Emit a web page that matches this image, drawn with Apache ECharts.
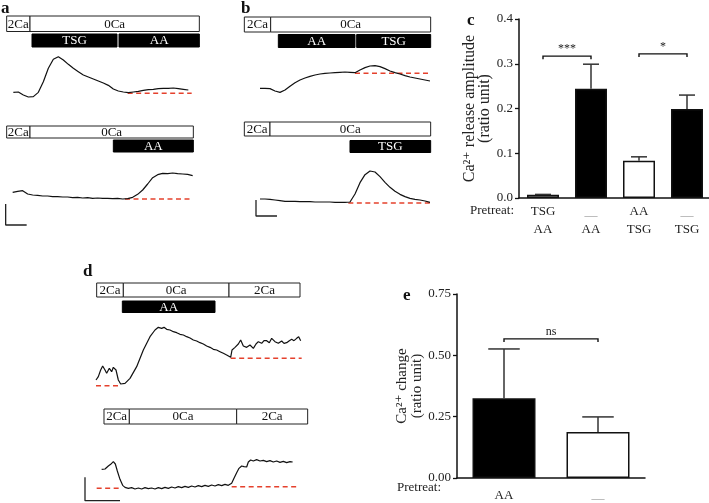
<!DOCTYPE html>
<html><head><meta charset="utf-8">
<script src="https://cdn.jsdelivr.net/npm/echarts@6/dist/echarts.min.js"></script>
<style>html,body{margin:0;padding:0;background:#fff}#chart{width:709px;height:503px}</style>
</head><body><div id="chart"></div><script>
// ================= DATA =================
// Panel a – upper trace: TSG then AA in 0 Ca (regular sampling, time s / ratio)
const a1Start = 20, a1Step = 15;
const a1Ratio = [0.23,0.24,0.15,0.09,0.10,0.23,0.55,0.95,1.22,1.30,1.20,1.07,0.95,0.85,0.75,0.69,0.63,0.57,0.51,0.44,0.33,0.27,0.24,0.22,0.24,0.26,0.29,0.31,0.32,0.34,0.35,0.35,0.36,0.34,0.32,0.30];
const a1Baseline = [[363,0.20],[555,0.20]];
const a1Solution = [[0,70],[70,578]];
const a1SolutionText = ['2Ca','0Ca'];
const a1Drug = [[76,331],[337,578]];
const a1DrugText = ['TSG','AA'];

// Panel a – lower trace: AA alone
const a2Start = 18, a2Step = 15;
const a2Ratio = [0.23,0.26,0.28,0.18,0.15,0.14,0.12,0.12,0.10,0.10,0.09,0.09,0.07,0.08,0.06,0.07,0.05,0.06,0.05,0.05,0.04,0.05,0.03,0.04,0.08,0.17,0.30,0.48,0.67,0.76,0.80,0.79,0.81,0.79,0.78,0.77,0.73];
const a2Baseline = [[355,0.03],[555,0.03]];
const a2Solution = [[0,70],[70,560]];
const a2SolutionText = ['2Ca','0Ca'];
const a2Drug = [[320,560]];
const a2DrugText = ['AA'];
const aScaleBar = [[-3,-0.12],[-3,-0.75],[60,-0.75]];

// Panel b – upper trace: AA then TSG
const b1Start = 47, b1Step = 15;
const b1Ratio = [0.35,0.35,0.34,0.27,0.23,0.30,0.41,0.52,0.60,0.66,0.71,0.75,0.78,0.80,0.81,0.82,0.83,0.84,0.83,0.82,0.90,0.97,1.02,1.03,1.00,0.94,0.87,0.82,0.78,0.73,0.69,0.66,0.63,0.60,0.57];
const b1Baseline = [[332,0.80],[557,0.80]];
const b1Solution = [[0,79],[79,559]];
const b1SolutionText = ['2Ca','0Ca'];
const b1Drug = [[102,332],[337,559]];
const b1DrugText = ['AA','TSG'];

// Panel b – lower trace: TSG alone
const b2Start = 47, b2Step = 15;
const b2Ratio = [0.51,0.51,0.50,0.48,0.46,0.44,0.44,0.44,0.43,0.43,0.43,0.42,0.42,0.42,0.42,0.41,0.41,0.41,0.42,0.66,1.00,1.24,1.35,1.32,1.18,1.01,0.86,0.74,0.65,0.58,0.53,0.50,0.48,0.45,0.41];
const b2Baseline = [[312,0.39],[557,0.39]];
const b2Solution = [[0,77],[77,559]];
const b2SolutionText = ['2Ca','0Ca'];
const b2Drug = [[317,559]];
const b2DrugText = ['TSG'];
const bScaleBar = [[35,0.48],[35,0],[98,0]];

// Panel d – upper trace: AA in 0 Ca then Ca re-addition
const d1Trace = [[3,0.30],[10,0.40],[17,0.60],[23,0.72],[30,0.60],[35,0.50],[43,0.65],[50,0.55],[55,0.68],[63,0.60],[70,0.30],[77,0.18],[90,0.20],[105,0.35],[125,0.70],[145,1.20],[165,1.60],[180,1.80],[190,1.88],[200,1.85],[207,1.88],[215,1.82],[225,1.80],[235,1.75],[245,1.72],[255,1.67],[265,1.65],[275,1.60],[285,1.56],[295,1.50],[305,1.47],[315,1.42],[325,1.38],[335,1.32],[345,1.28],[355,1.22],[365,1.20],[375,1.15],[385,1.10],[395,1.05],[407,0.98],[411,1.20],[420,1.28],[430,1.38],[437,1.50],[445,1.32],[455,1.28],[465,1.35],[475,1.25],[483,1.38],[490,1.45],[500,1.40],[507,1.48],[515,1.48],[523,1.42],[530,1.55],[540,1.45],[550,1.40],[560,1.47],[567,1.40],[575,1.42],[583,1.48],[590,1.52],[597,1.48],[605,1.55],[611,1.60],[615,1.65],[617,1.48]];
const d1BaselineLeft = [[3,0.13],[75,0.13]];
const d1BaselineRight = [[407,0.95],[620,0.95]];
const d1Solution = [[5,85],[85,402],[402,615]];
const d1SolutionText = ['2Ca','0Ca','2Ca'];
const d1Drug = [[82,360]];
const d1DrugText = ['AA'];

// Panel d – lower trace: control
const d2Trace = [[20,1.02],[30,1.03],[40,1.12],[47,1.17],[55,1.25],[61,1.18],[67,0.97],[75,0.72],[83,0.54],[90,0.48],[100,0.45],[110,0.47],[120,0.43],[130,0.46],[140,0.43],[150,0.47],[160,0.44],[170,0.46],[180,0.43],[190,0.47],[200,0.44],[210,0.48],[220,0.45],[230,0.49],[240,0.46],[250,0.50],[260,0.47],[270,0.51],[280,0.48],[290,0.52],[300,0.49],[310,0.53],[320,0.50],[330,0.54],[340,0.51],[350,0.55],[360,0.52],[370,0.56],[380,0.53],[390,0.57],[400,0.54],[410,0.60],[417,0.75],[425,0.92],[432,1.05],[440,1.12],[447,1.10],[455,1.09],[460,1.24],[467,1.30],[475,1.27],[485,1.31],[495,1.27],[505,1.29],[515,1.25],[525,1.28],[535,1.24],[545,1.27],[555,1.23],[565,1.26],[575,1.22],[585,1.25],[593,1.24]];
const d2BaselineLeft = [[5,0.45],[80,0.45]];
const d2BaselineRight = [[410,0.50],[605,0.50]];
const d2Solution = [[27,103],[103,425],[425,638]];
const d2SolutionText = ['2Ca','0Ca','2Ca'];
const dScaleBar = [[-30,0.78],[-30,0.08],[75,0.08]];

// Panel c – Ca2+ release amplitude
const cPretreat = ['TSG','—','AA','—'];
const cStimulus = ['AA','AA','TSG','TSG'];
const cMean = [0.007, 0.244, 0.083, 0.199];
const cSem  = [0.001, 0.055, 0.009, 0.031];
const cTicks = [0, 0.1, 0.2, 0.3, 0.4];
const cBrackets = [[0, 1, 0.317], [2, 3, 0.322]];
const cBracketText = ['***', '*'];

// Panel e – Ca2+ change
const ePretreat = ['AA','—'];
const eMean = [0.325, 0.188];
const eSem  = [0.201, 0.061];
const eTicks = [0, 0.25, 0.5, 0.75];
const eBrackets = [[0, 1, 0.567]];
const eBracketText = ['ns'];

// ================= STYLE / LAYOUT =================
const FONT = '"Liberation Serif", "Times New Roman", "DejaVu Serif", serif';
const cFill = ['#fff','#000','#fff','#000'];
const eFill = ['#000','#fff'];

// pixel frames of the trace panels (x/y extents of each frame's axes)
const traceGrids = [
  {left:6.67, top:16, width:192.67, height:84, xmin:0, xmax:578, ymin:0, ymax:2.52, rows:[15.5,18,13]},
  {left:5.0, top:126, width:188.33, height:100.67, xmin:-5, xmax:560, ymin:-0.8, ymax:2.22, rows:[12,14,12]},
  {left:244.33, top:17, width:186.33, height:83, xmin:0, xmax:559, ymin:0, ymax:2.49, rows:[15,17.5,13]},
  {left:244.33, top:122, width:186.33, height:94, xmin:0, xmax:559, ymin:0, ymax:2.82, rows:[14,18.5,12]},
  {left:95, top:283, width:206.67, height:107, xmin:0, xmax:620, ymin:0, ymax:3.21, rows:[14,18,11.5]},
  {left:83.33, top:409, width:228.33, height:94.33, xmin:-35, xmax:650, ymin:0, ymax:2.83, rows:[15,18,12]}
];

const grid = traceGrids.map(g => ({left:g.left, top:g.top, width:g.width, height:g.height, outerBoundsMode:'none', containLabel:false}));
grid.push({left:519, top:19, width:192, height:179, outerBoundsMode:'none', containLabel:false}); // 6: c
grid.push({left:457, top:294, width:188, height:184, outerBoundsMode:'none', containLabel:false}); // 7: e

const xAxis = traceGrids.map((g,i) => ({type:'value', gridIndex:i, min:g.xmin, max:g.xmax, show:false}));
const yAxis = traceGrids.map((g,i) => ({type:'value', gridIndex:i, min:g.ymin, max:g.ymax, show:false}));

const cCats = cPretreat.map((p,i)=>p+'/'+cStimulus[i]+i);
const eCats = ePretreat.map((p,i)=>p+i);
const axisLineStyle = {color:'#111', width:1.5};
const labelBase = {color:'#222', fontFamily:FONT, fontSize:13};

function pretreatLabel(arr, dashPad) {
  return {
    ...labelBase,
    interval:0,
    formatter:(v, idx) => arr[idx] === '—' ? '{d|—}' : '{t|' + arr[idx] + '}',
    rich:{
      t:{...labelBase, lineHeight:15},
      d:{fontFamily:FONT, fontSize:13, color:'#9a9a9a', lineHeight:15, padding:[dashPad,0,0,0]}
    }
  };
}

// c row-1 axis (series axis)
xAxis.push({type:'category', gridIndex:6, position:'bottom', data:cCats,
  axisLine:{lineStyle:axisLineStyle}, axisTick:{alignWithLabel:true, length:4, lineStyle:{color:'#333', width:1.2}},
  axisLabel:{...pretreatLabel(cPretreat, 8), margin:6}});
// c row-2 axis
xAxis.push({type:'category', gridIndex:6, position:'bottom', data:cCats,
  axisLine:{show:false}, axisTick:{show:false},
  axisLabel:{...labelBase, interval:0, margin:25, formatter:(v,idx)=>cStimulus[idx]}});
// e axis
xAxis.push({type:'category', gridIndex:7, position:'bottom', data:eCats,
  axisLine:{lineStyle:axisLineStyle}, axisTick:{alignWithLabel:true, length:4, lineStyle:{color:'#333', width:1.2}},
  axisLabel:{...pretreatLabel(ePretreat, 6), margin:10}});

const nameStyle = {fontFamily:FONT, fontSize:15, lineHeight:15, color:'#222'};
yAxis.push({type:'value', gridIndex:6, min:cTicks[0], max:cTicks[cTicks.length-1], interval:cTicks[1]-cTicks[0],
  name:'Ca²⁺ release amplitude\n(ratio unit)', nameLocation:'middle', nameRotate:90, nameGap:21,
  nameTextStyle:{...nameStyle, fontSize:16},
  axisLine:{show:true, lineStyle:axisLineStyle}, axisTick:{show:true, length:4, lineStyle:{color:'#111', width:1.3}},
  splitLine:{show:false}, axisLabel:{...labelBase, margin:6, formatter:v=>v.toFixed(1)}});
yAxis.push({type:'value', gridIndex:7, min:eTicks[0], max:eTicks[eTicks.length-1], interval:eTicks[1]-eTicks[0],
  name:'Ca²⁺ change\n(ratio unit)', nameLocation:'middle', nameRotate:90, nameGap:32.5, nameTextStyle:nameStyle,
  axisLine:{show:true, lineStyle:axisLineStyle}, axisTick:{show:true, length:4, lineStyle:{color:'#111', width:1.3}},
  splitLine:{show:false}, axisLabel:{...labelBase, margin:6, formatter:v=>v.toFixed(2)}});

// ================= SERIES =================
const series = [];
const regular = (start, step, arr) => arr.map((v,i)=>[start + i*step, v]);

function traceLine(idx, data) {
  series.push({type:'line', xAxisIndex:idx, yAxisIndex:idx, data, showSymbol:false, symbol:'none',
    lineStyle:{color:'#111', width:1.2}, silent:true, animation:false, z:3});
}
function dashLine(idx, data) {
  series.push({type:'line', xAxisIndex:idx, yAxisIndex:idx, data, showSymbol:false, symbol:'none',
    lineStyle:{color:'#e5412d', width:1.5, type:[5,3.5]}, silent:true, animation:false, z:2});
}
function scaleBar(idx, data) {
  series.push({type:'line', xAxisIndex:idx, yAxisIndex:idx, data, showSymbol:false, symbol:'none', clip:false,
    lineStyle:{color:'#222', width:1.3}, silent:true, animation:false});
}
function boxRow(idx, segs, texts, dark) {
  const r = traceGrids[idx].rows;
  series.push({type:'custom', xAxisIndex:idx, yAxisIndex:idx, data:segs, silent:true, animation:false, clip:false, z:4,
    renderItem(params, api) {
      const x0 = api.coord([api.value(0), 0])[0];
      const x1 = api.coord([api.value(1), 0])[0];
      const top = params.coordSys.y + (dark ? r[1] : 0);
      const h = dark ? r[2] : r[0];
      return {type:'group', children:[
        {type:'rect', shape:{x:x0, y:top, width:x1-x0, height:h},
          style:{fill:dark?'#000':'#fff', stroke:dark?'#000':'#222', lineWidth:1}},
        {type:'text', style:{text:texts[params.dataIndex], x:(x0+x1)/2, y:top+h/2+0.5, align:'center', verticalAlign:'middle',
          fill:dark?'#fff':'#111', fontFamily:FONT, fontSize:13}}
      ]};
    }});
}

// a
traceLine(0, regular(a1Start, a1Step, a1Ratio)); dashLine(0, a1Baseline);
boxRow(0, a1Solution, a1SolutionText, false); boxRow(0, a1Drug, a1DrugText, true);
traceLine(1, regular(a2Start, a2Step, a2Ratio)); dashLine(1, a2Baseline);
boxRow(1, a2Solution, a2SolutionText, false); boxRow(1, a2Drug, a2DrugText, true);
scaleBar(1, aScaleBar);
// b
traceLine(2, regular(b1Start, b1Step, b1Ratio)); dashLine(2, b1Baseline);
boxRow(2, b1Solution, b1SolutionText, false); boxRow(2, b1Drug, b1DrugText, true);
traceLine(3, regular(b2Start, b2Step, b2Ratio)); dashLine(3, b2Baseline);
boxRow(3, b2Solution, b2SolutionText, false); boxRow(3, b2Drug, b2DrugText, true);
scaleBar(3, bScaleBar);
// d
traceLine(4, d1Trace); dashLine(4, d1BaselineLeft); dashLine(4, d1BaselineRight);
boxRow(4, d1Solution, d1SolutionText, false); boxRow(4, d1Drug, d1DrugText, true);
traceLine(5, d2Trace); dashLine(5, d2BaselineLeft); dashLine(5, d2BaselineRight);
boxRow(5, d2Solution, d2SolutionText, false);
scaleBar(5, dScaleBar);

// bar panels
function barPanel(xIdx, yIdx, mean, sem, fill, barW, brackets, bracketText) {
  series.push({type:'bar', xAxisIndex:xIdx, yAxisIndex:yIdx, barWidth:barW, animation:false, silent:true, z:2,
    data:mean.map((v,i)=>({value:v, itemStyle:{color:fill[i], borderColor:'#111', borderWidth:1.5}}))});
  series.push({type:'custom', xAxisIndex:xIdx, yAxisIndex:yIdx, animation:false, silent:true, z:3,
    data:mean.map((m,i)=>[i, m, m+sem[i]]),
    renderItem(params, api) {
      const p0 = api.coord([api.value(0), api.value(1)]);
      const p1 = api.coord([api.value(0), api.value(2)]);
      const hw = barW/4;
      const st = {stroke:'#333', lineWidth:1.5};
      return {type:'group', children:[
        {type:'line', shape:{x1:p0[0], y1:p0[1], x2:p1[0], y2:p1[1]}, style:st},
        {type:'line', shape:{x1:p1[0]-hw, y1:p1[1], x2:p1[0]+hw, y2:p1[1]}, style:st}
      ]};
    }});
  series.push({type:'custom', xAxisIndex:xIdx, yAxisIndex:yIdx, animation:false, silent:true, clip:false, z:3,
    data:brackets,
    renderItem(params, api) {
      const a = api.coord([api.value(0), api.value(2)]);
      const b = api.coord([api.value(1), api.value(2)]);
      return {type:'group', children:[
        {type:'polyline', shape:{points:[[a[0],a[1]+3],[a[0],a[1]],[b[0],b[1]],[b[0],b[1]+3]]}, style:{stroke:'#111', lineWidth:1.4, fill:null}},
        {type:'text', style:{text:bracketText[params.dataIndex], x:(a[0]+b[0])/2, y:a[1]-1, align:'center', verticalAlign:'bottom',
          fill:'#222', fontFamily:FONT, fontSize:12}}
      ]};
    }});
}
barPanel(6, 6, cMean, cSem, cFill, 32, cBrackets, cBracketText);
barPanel(8, 7, eMean, eSem, eFill, 63, eBrackets, eBracketText);

// text annotations
const letter = (t, x, y) => ({type:'text', left:x, top:y, style:{text:t, fontFamily:FONT, fontWeight:'bold', fontSize:17, fill:'#111'}});
const graphic = [
  letter('a', 1, 0), letter('b', 241, 0), letter('c', 467, 12), letter('d', 83, 263), letter('e', 403, 287),
  {type:'text', left:470, top:204, style:{text:'Pretreat:', fontFamily:FONT, fontSize:13, fill:'#222'}},
  {type:'text', left:397, top:481, style:{text:'Pretreat:', fontFamily:FONT, fontSize:13, fill:'#222'}}
];

const chart = echarts.init(document.getElementById('chart'), null, {renderer:'canvas'});
chart.setOption({animation:false, backgroundColor:'#fff', grid, xAxis, yAxis, series, graphic});
</script></body></html>
